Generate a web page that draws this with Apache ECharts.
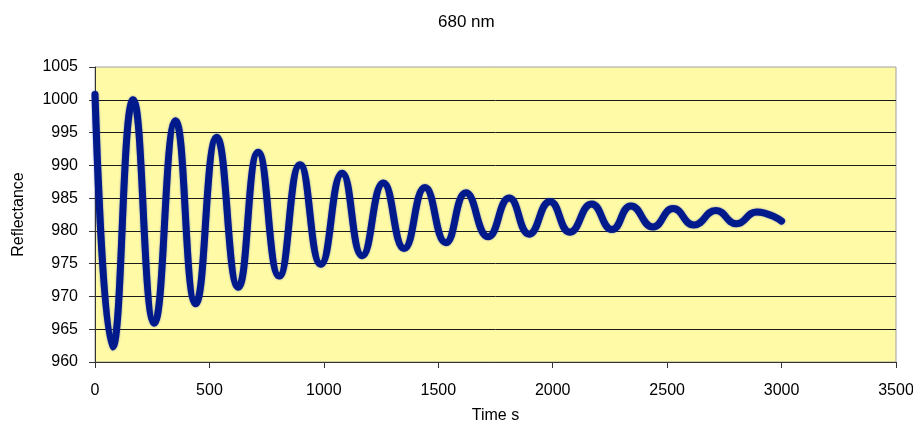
<!DOCTYPE html>
<html>
<head>
<meta charset="utf-8">
<script src="https://cdn.jsdelivr.net/npm/echarts@6/dist/echarts.min.js"></script>
<style>
  html, body { margin: 0; padding: 0; background: #fff; }
  #chart { width: 913px; height: 429px; }
</style>
</head>
<body>
<div id="chart"></div>
<script>
// turning points of the trace (time in s, reflectance)
const timeSec = [0, 77, 167, 259, 352, 440, 532, 626, 713, 805, 896, 987, 1080, 1168,
  1260, 1351, 1442, 1533, 1621, 1718, 1810, 1897, 1988, 2075, 2170, 2259, 2342,
  2438, 2526, 2617, 2713, 2803, 2891, 3000];
const reflectance = [1000.8, 962.3, 1000.0, 965.9, 996.8, 968.9, 994.3, 971.4, 992.0,
  973.1, 990.1, 974.9, 988.8, 976.2, 987.3, 977.3, 986.6, 978.2, 985.8, 979.1, 985.0,
  979.5, 984.5, 979.8, 984.1, 980.2, 983.8, 980.6, 983.4, 980.9, 983.1, 981.1, 982.9, 981.5];

const xTicks = [0, 500, 1000, 1500, 2000, 2500, 3000, 3500];
const yTicks = [960, 965, 970, 975, 980, 985, 990, 995, 1000, 1005];

const font = 'Liberation Sans, Arial, sans-serif';

const points = [];
for (let i = 0; i < timeSec.length; i++) {
  points.push([timeSec[i], reflectance[i]]);
}

// grid lines black, except the top one (plot border there)
const gridColors = yTicks.map((v, i) => (i === yTicks.length - 1 ? 'transparent' : '#1a1a1a'));

const myChart = echarts.init(document.getElementById('chart'), null, { renderer: 'canvas' });

const option = {
  animation: false,
  backgroundColor: '#ffffff',
  title: {
    text: '680 nm',
    left: 433,
    top: 9,
    textStyle: { fontFamily: font, fontSize: 17, fontWeight: 'normal', color: '#000' }
  },
  grid: {
    left: 95,
    right: 17,
    top: 67,
    bottom: 67,
    outerBoundsMode: 'none',
    containLabel: false,
    show: true,
    backgroundColor: '#fffaa6',
    borderColor: '#a0a0a0',
    borderWidth: 1
  },
  xAxis: {
    type: 'value',
    min: xTicks[0],
    max: xTicks[xTicks.length - 1],
    interval: 500,
    name: 'Time s',
    nameLocation: 'middle',
    nameGap: 46,
    nameTextStyle: { fontFamily: font, fontSize: 16, color: '#000' },
    axisLine: { show: true, onZero: false, lineStyle: { color: '#333', width: 1 } },
    axisTick: { show: true, inside: false, length: 6, lineStyle: { color: '#333' } },
    axisLabel: { margin: 21, fontFamily: font, fontSize: 16, color: '#000', formatter: v => String(v) },
    splitLine: { show: false }
  },
  yAxis: {
    type: 'value',
    min: yTicks[0],
    max: yTicks[yTicks.length - 1],
    interval: 5,
    name: 'Reflectance',
    nameLocation: 'middle',
    nameGap: 68,
    nameTextStyle: { fontFamily: font, fontSize: 16, color: '#000' },
    axisLine: { show: true, onZero: false, lineStyle: { color: '#333', width: 1 } },
    axisTick: { show: true, inside: false, length: 6, lineStyle: { color: '#333' } },
    axisLabel: { margin: 17, fontFamily: font, fontSize: 16, color: '#000', formatter: v => String(v) },
    splitLine: { show: true, lineStyle: { color: gridColors, width: 1 } }
  },
  series: [
    {
      name: 'Reflectance',
      type: 'line',
      data: points,
      smooth: 0.5,
      showSymbol: false,
      clip: true,
      lineStyle: {
        color: '#001a8c',
        width: 7,
        cap: 'round',
        join: 'round',
        shadowColor: 'rgba(40,60,170,0.6)',
        shadowBlur: 2
      }
    }
  ]
};

myChart.setOption(option);
</script>
</body>
</html>
